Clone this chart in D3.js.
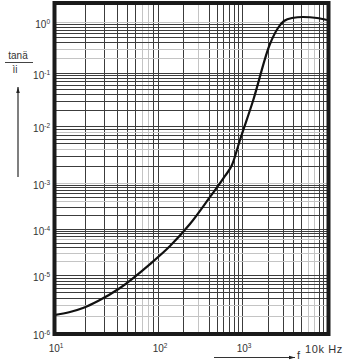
<!DOCTYPE html>
<html>
<head>
<meta charset="utf-8">
<title>tan delta / mu i</title>
<script src="https://cdn.jsdelivr.net/npm/d3@7"></script>
<style>
  body { margin: 0; background: #fff; }
  text { font-family: "Liberation Sans", Arial, sans-serif; fill: #333; }
</style>
</head>
<body>
<script>
// Loss factor curve
const freq = [10, 14.25, 19, 26.5, 43.1, 83.8, 139, 240, 416, 628, 760, 946,
              1346, 2134, 2652, 3120, 3876, 5220, 7625, 10000];
const tanD = [2.04e-6, 2.3e-6, 2.7e-6, 3.56e-6, 5.97e-6, 1.73e-5, 4.27e-5, 1.28e-4,
              4.97e-4, 1.33e-3, 2.07e-3, 5.68e-3,
              0.0296, 0.371, 0.763, 1.046, 1.198, 1.253, 1.198, 1.094];

// Decades and labels
const xDecades = [10, 100, 1000, 10000];
const xExps = ["1", "2", "3"];
const yDecades = [1e-6, 1e-5, 1e-4, 1e-3, 1e-2, 1e-1, 1];
const yExps = ["-6", "-5", "-4", "-3", "-2", "-1", "0"];

// grid lines that are printed light grey on the paper
const xLight = [70, 80, 300, 6000, 7000];
const yLight = [1, 0.3, 0.2, 0.008, 0.004, 0.001, 0.0004, 6e-5, 3e-5, 2e-5, 3e-6, 2e-6];

const w = 344, h = 364;

// the log paper is not quite even, so each decade gets its own stretch
const x = d3.scaleLog()
  .domain(xDecades)
  .range([54, 158, 242, 327]);

const y = d3.scaleLog()
  .domain([1e-6, 1e-5, 1e-4, 1e-3, 1e-2, 1e-1, 1, 2.36])
  .range([333, 275, 229, 183, 126, 73, 22, 3]);

const svg = d3.select("body").append("svg")
  .attr("width", w)
  .attr("height", h);

// 1..9 lines in every decade
const xGrid = [];
xDecades.slice(0, -1).forEach(function(d) {
  for (let k = 1; k <= 9; k++) xGrid.push(d * k);
});
xGrid.push(10000);
const yGrid = [];
yDecades.slice(0, -1).forEach(function(d) {
  for (let k = 1; k <= 9; k++) yGrid.push(+(d * k).toPrecision(3));
});
yGrid.push(1);

function isLight(list, v) {
  return list.some(function(l) { return Math.abs(l - v) / l < 1e-6; });
}

const grid = svg.append("g").attr("class", "grid");

grid.selectAll(".vline")
  .data(xGrid)
  .enter().append("line")
  .attr("class", "vline")
  .attr("x1", d => Math.round(x(d)) + 0.5)
  .attr("x2", d => Math.round(x(d)) + 0.5)
  .attr("y1", y(2.36))
  .attr("y2", y(1e-6))
  .attr("stroke", d => isLight(xLight, d) ? "#c4c4c4" : "#3c3c3c")
  .attr("stroke-width", 1);

grid.selectAll(".hline")
  .data(yGrid)
  .enter().append("line")
  .attr("class", "hline")
  .attr("x1", x(10))
  .attr("x2", x(10000))
  .attr("y1", d => Math.round(y(d)) + 0.5)
  .attr("y2", d => Math.round(y(d)) + 0.5)
  .attr("stroke", d => isLight(yLight, d) ? "#c4c4c4" : "#3c3c3c")
  .attr("stroke-width", 1);

// the curve
const line = d3.line()
  .x((d, i) => x(freq[i]))
  .y(d => y(d))
  .curve(d3.curveMonotoneX);

svg.append("path")
  .datum(tanD)
  .attr("d", line)
  .attr("fill", "none")
  .attr("stroke", "#111")
  .attr("stroke-width", 2.2);

// heavy frame
svg.append("rect")
  .attr("x", x(10) + 0.5)
  .attr("y", y(2.36))
  .attr("width", x(10000) - x(10) + 1)
  .attr("height", y(1e-6) - y(2.36) + 1)
  .attr("fill", "none")
  .attr("stroke", "#1a1a1a")
  .attr("stroke-width", 4);

// y decade labels
const yLab = svg.append("g").selectAll("text")
  .data(yDecades)
  .enter().append("text")
  .attr("x", 50)
  .attr("y", d => y(d) + 5.5)
  .attr("text-anchor", "end")
  .style("font-size", "10px");
yLab.append("tspan").text("10");
yLab.append("tspan")
  .attr("dy", -4)
  .style("font-size", "6.5px")
  .text((d, i) => yExps[i]);

// x decade labels
const xLab = svg.append("g").selectAll("text")
  .data(xDecades.slice(0, 3))
  .enter().append("text")
  .attr("x", d => x(d) + 2)
  .attr("y", 352)
  .attr("text-anchor", "middle")
  .style("font-size", "10px");
xLab.append("tspan").text("10");
xLab.append("tspan")
  .attr("dy", -4)
  .style("font-size", "6.5px")
  .text((d, i) => xExps[i]);

// axis name at the far end of x
svg.append("text")
  .attr("x", 297)
  .attr("y", 359)
  .style("font-size", "11px")
  .text("f");
svg.append("text")
  .attr("x", 305)
  .attr("y", 353)
  .style("font-size", "11px")
  .style("letter-spacing", "0.6px")
  .text("10k Hz");

// arrows
const defs = svg.append("defs");
defs.append("marker")
  .attr("id", "head")
  .attr("viewBox", "0 0 10 10")
  .attr("refX", 10).attr("refY", 5)
  .attr("markerWidth", 6).attr("markerHeight", 6)
  .attr("markerUnits", "userSpaceOnUse")
  .attr("orient", "auto")
  .append("path")
  .attr("d", "M0,2 L10,5 L0,8 Z")
  .attr("fill", "#222");

svg.append("line")
  .attr("x1", 214).attr("y1", 357.5)
  .attr("x2", 295).attr("y2", 357.5)
  .attr("stroke", "#333")
  .attr("stroke-width", 1)
  .attr("marker-end", "url(#head)");

svg.append("line")
  .attr("x1", 18).attr("y1", 177)
  .attr("x2", 18).attr("y2", 87)
  .attr("stroke", "#555")
  .attr("stroke-width", 1.5)
  .attr("marker-end", "url(#head)");

// y axis name, written as a fraction
svg.append("text")
  .attr("x", 18)
  .attr("y", 59)
  .attr("text-anchor", "middle")
  .style("font-size", "10px")
  .text("tanä");
svg.append("line")
  .attr("x1", 5).attr("x2", 33)
  .attr("y1", 62.5).attr("y2", 62.5)
  .attr("stroke", "#444")
  .attr("stroke-width", 1);
svg.append("text")
  .attr("x", 15)
  .attr("y", 73)
  .attr("text-anchor", "middle")
  .style("font-size", "10px")
  .text("ìi");
</script>
</body>
</html>
